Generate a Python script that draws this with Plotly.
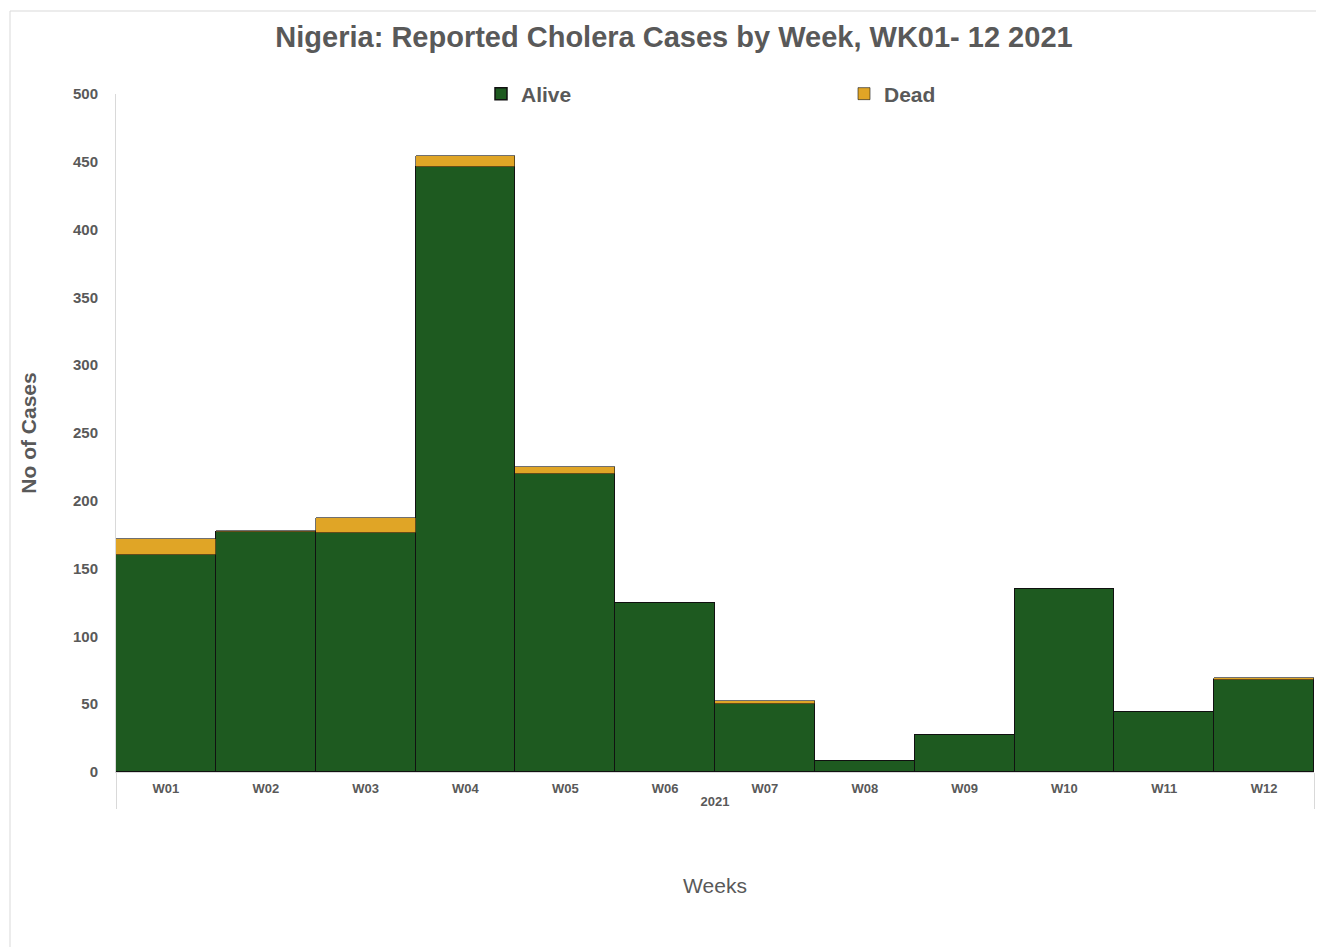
import plotly.graph_objects as go

weeks = ["W01", "W02", "W03", "W04", "W05", "W06", "W07", "W08", "W09", "W10", "W11", "W12"]
year = ["2021"] * len(weeks)
alive = [160, 177, 176, 446, 220, 125, 50, 8, 27, 135, 44, 68]
dead = [12, 1, 11, 8, 5, 0, 2, 0, 0, 0, 0, 1]
y_ticks = list(range(0, 501, 50))

GRAY = "#595959"
FONT = "Liberation Sans, Arial, sans-serif"

fig = go.Figure()
fig.add_trace(go.Bar(
    x=[year, weeks], y=alive, name="Alive",
    marker=dict(color="#1E5A20", line=dict(color="#111111", width=1.5)),
))
fig.add_trace(go.Bar(
    x=[year, weeks], y=dead, name="Dead",
    marker=dict(color="#E0A526", line=dict(color="#111111", width=0.6)),
))

# page body has an 8px margin, so the figure is sized to fit the window
W, H = 1316, 939
L, R, T, B = 108, 10, 86, 175
PW, PH = W - L - R, H - T - B

fig.update_layout(
    width=W, height=H,
    barmode="stack", bargap=0,
    paper_bgcolor="white", plot_bgcolor="white",
    margin=dict(l=L, r=R, t=T, b=B, autoexpand=False),
    font=dict(family=FONT, color=GRAY),
    title=dict(
        text="Nigeria: Reported Cholera Cases by Week, WK01- 12 2021",
        x=0.5 + 8 / W, xanchor="center", xref="container",
        y=1 - 29 / H, yref="container", yanchor="middle",
        font=dict(size=29, color=GRAY, family=FONT, weight="bold"),
    ),
    legend=dict(
        orientation="h", x=(473 - L) / PW, xanchor="left",
        y=1.0, yanchor="middle", entrywidth=318, entrywidthmode="pixels",
        font=dict(size=21, color=GRAY, family=FONT, weight="bold"),
        bgcolor="rgba(0,0,0,0)", traceorder="normal", itemwidth=30,
    ),
    showlegend=True,
    xaxis=dict(
        type="multicategory",
        showgrid=False, showline=True, linecolor="#d9d9d9", linewidth=1,
        showdividers=True, dividercolor="#d9d9d9", dividerwidth=1,
        tickfont=dict(size=13, color=GRAY, family=FONT, weight="bold"),
        ticklabelstandoff=4,
        title=dict(text="Weeks", font=dict(size=21, color=GRAY, family=FONT), standoff=70),
    ),
    yaxis=dict(
        range=[0, 500], tickvals=y_ticks,
        showgrid=False, zeroline=False,
        showline=True, linecolor="#d9d9d9", linewidth=1,
        tickfont=dict(size=15, color=GRAY, family=FONT, weight="bold"),
        ticks="", ticklabelstandoff=14,
        title=dict(text="No of Cases", font=dict(size=21, color=GRAY, family=FONT, weight="bold"),
                   standoff=30),
    ),
)

# chart-area border (Excel style)
bx = (2 - L) / PW
by = 1 + (T - 3) / PH
fig.add_shape(type="line", xref="paper", yref="paper",
              x0=bx, x1=1 + (R + 5) / PW, y0=by, y1=by,
              line=dict(color="#d9d9d9", width=1))
fig.add_shape(type="line", xref="paper", yref="paper",
              x0=bx, x1=bx, y0=by, y1=-(B + 5) / PH,
              line=dict(color="#d9d9d9", width=1))

fig.write_html("out.html")
